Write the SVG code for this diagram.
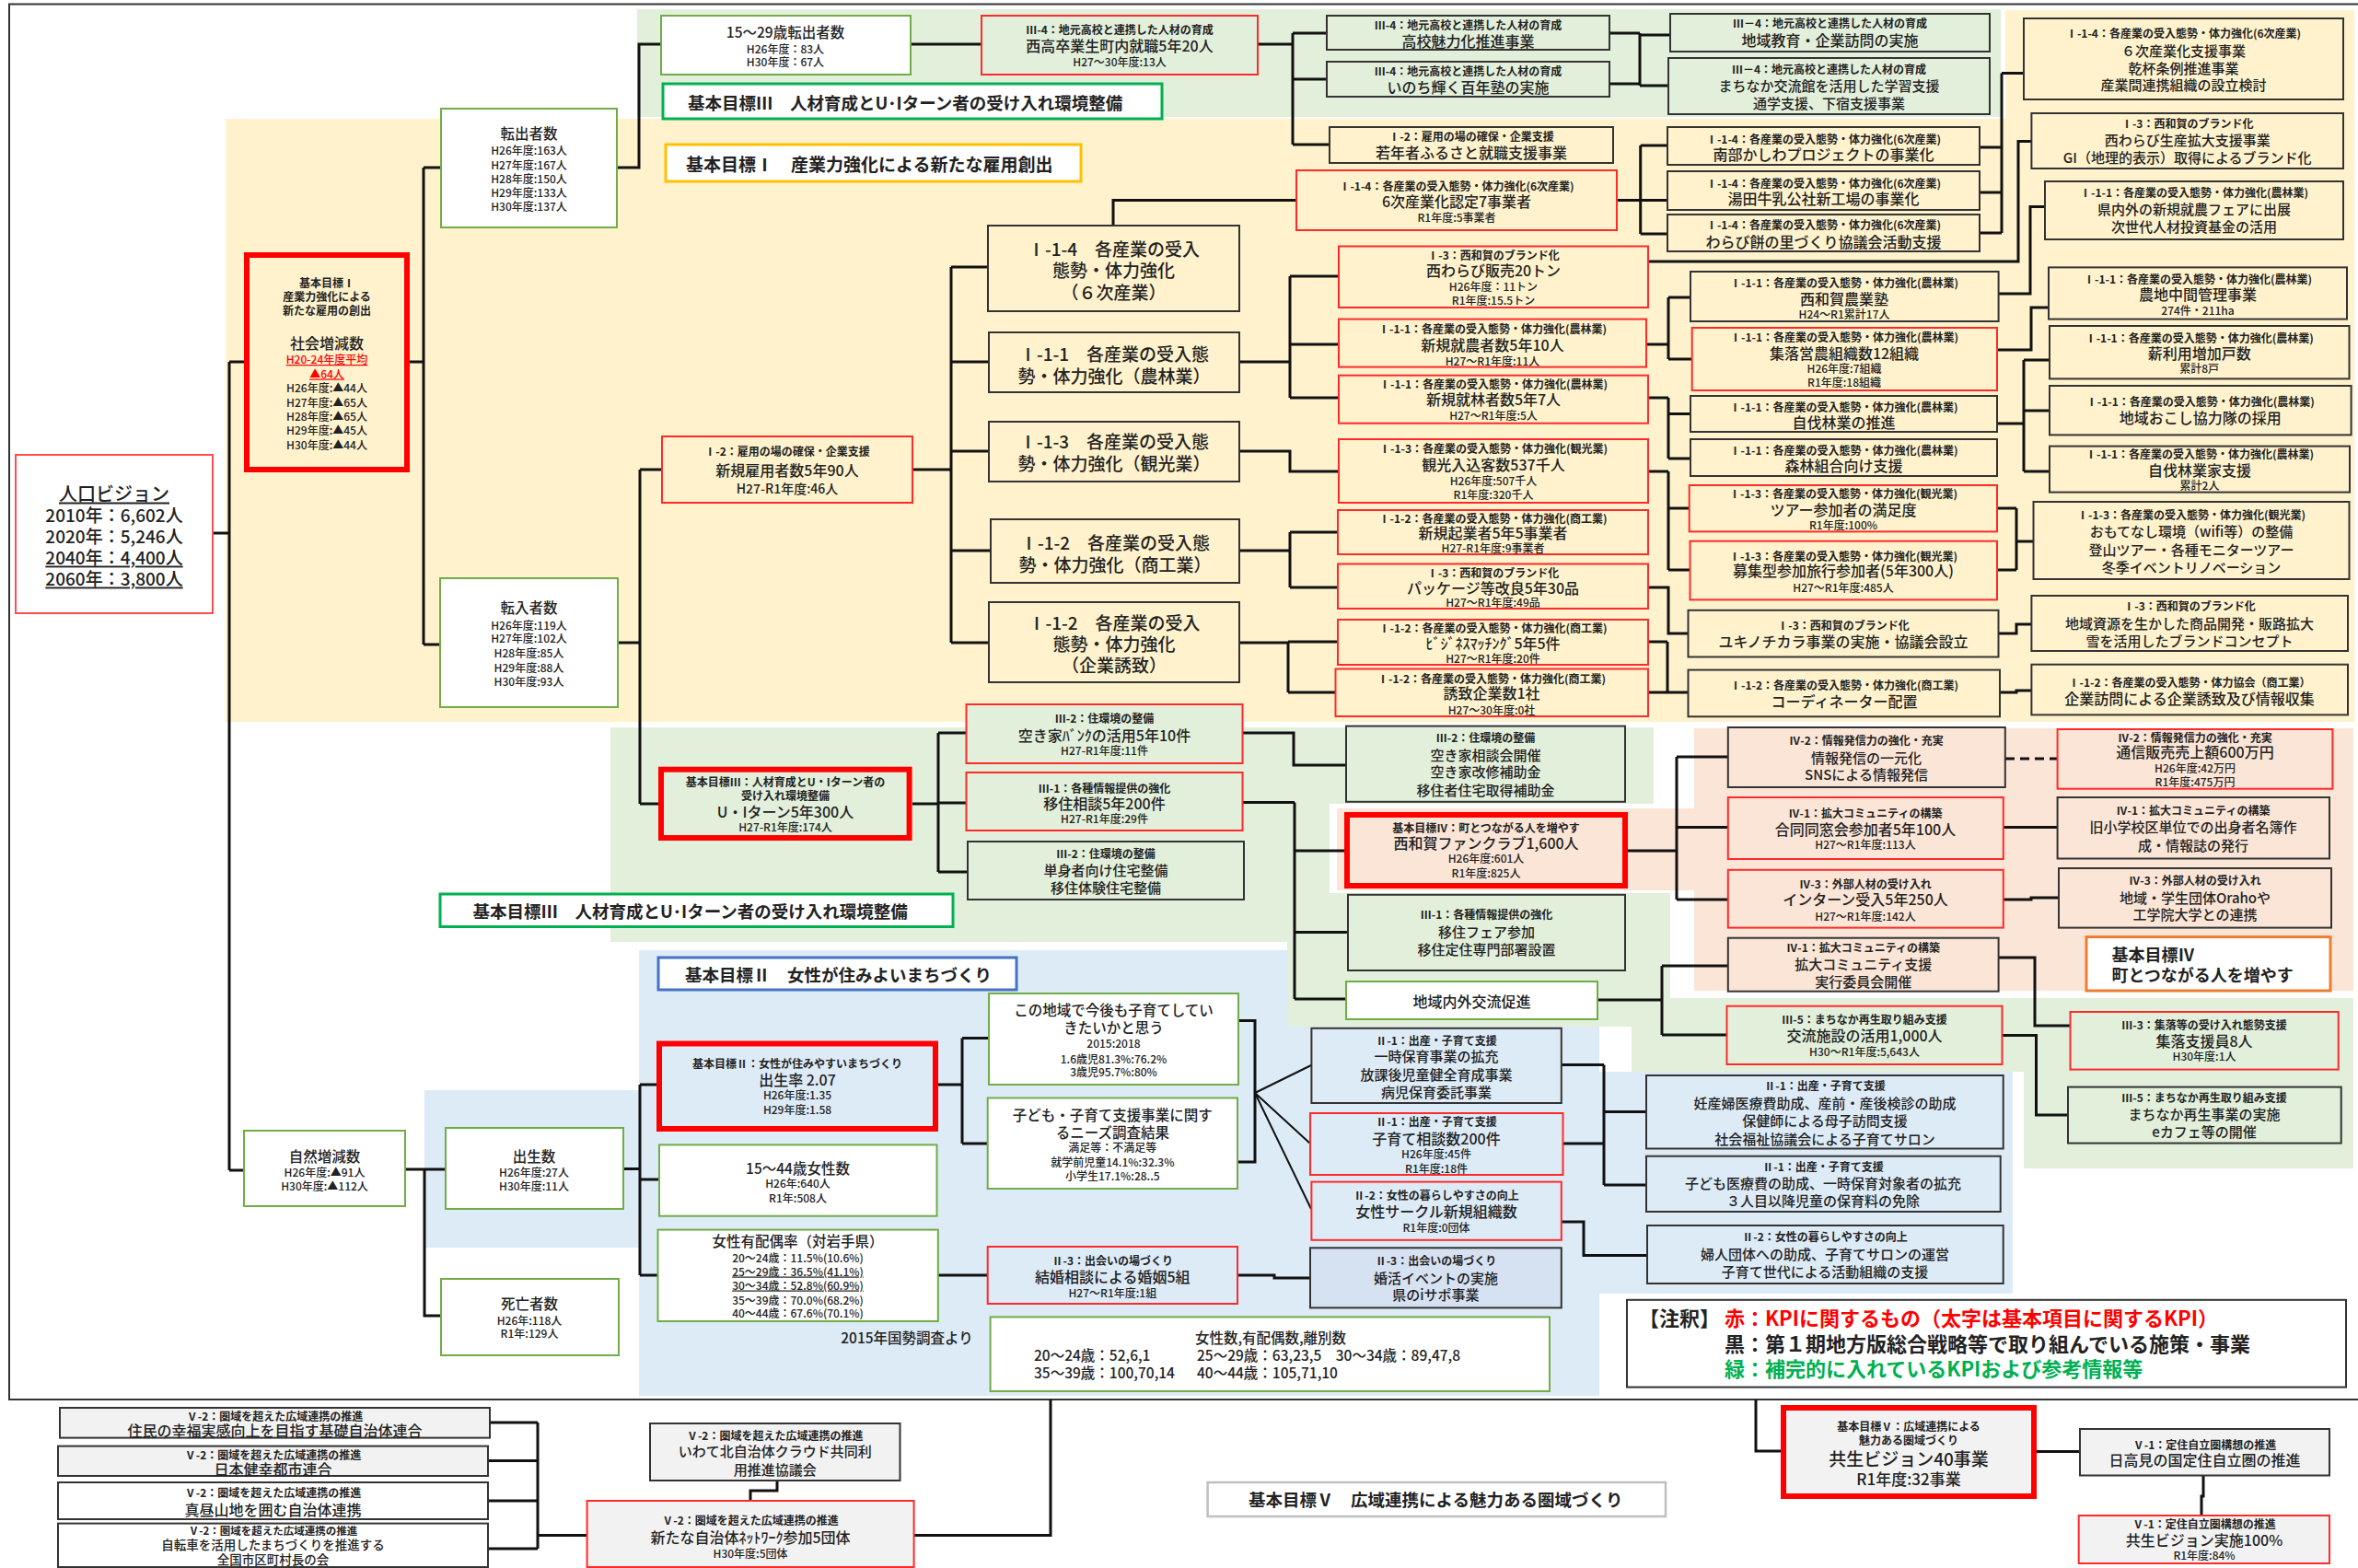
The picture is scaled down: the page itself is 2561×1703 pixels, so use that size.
<svg xmlns="http://www.w3.org/2000/svg" width="2561" height="1703" viewBox="0 0 2561 1703">
<style>
text{font-family:"Noto Sans CJK JP","Noto Sans",sans-serif;fill:#222;text-anchor:middle;dominant-baseline:central}
.h{font-size:12px;font-weight:700}
.m{font-size:16px;font-weight:500}
.m2{font-size:15px;font-weight:500}
.s{font-size:12px;font-weight:500}
.b{font-size:19px;font-weight:500}
.t{font-size:15.5px;font-weight:500}
.p{font-size:19px;font-weight:500}
.lb{font-size:18.5px;font-weight:700;text-anchor:start}
.lg{font-size:22px;font-weight:700;text-anchor:start}
.st{text-anchor:start}
.u{text-decoration:underline}
.red{fill:#FF0000}
.k{stroke:#333;stroke-width:2}
.r{stroke:#FF2A2A;stroke-width:2}
.g{stroke:#70AD47;stroke-width:2}
.R{stroke:#FF0000;stroke-width:6}
.fg{fill:#E2EFDA}.fy{fill:#FFF2CC}.fb{fill:#DDEBF7}.fs{fill:#FBE5D6}.fw{fill:#fff}.fx{fill:#F2F2F2}.fn{fill:none}
.c path{fill:none;stroke:#111;stroke-width:3}
</style>
<g id="backgrounds">
<rect x="245" y="129" width="2312" height="655" fill="#FFF2CC"/>
<rect x="2178" y="11" width="379" height="118" fill="#FFF2CC"/>
<rect x="692" y="10" width="1481" height="117" fill="#E2EFDA"/>
<rect x="663" y="790" width="1133" height="233" fill="#E2EFDA"/>
<rect x="1840" y="791" width="716" height="285" fill="#FBE5D6"/>
<rect x="694" y="1032" width="1043" height="484" fill="#DDEBF7"/>
<rect x="461" y="1184" width="233" height="171" fill="#DDEBF7"/>
<rect x="1737" y="1164" width="449" height="241" fill="#DDEBF7"/>
<rect x="1398" y="969" width="416" height="146" fill="#E2EFDA"/>
<rect x="1444" y="873" width="396" height="97" fill="#fff"/>
<rect x="1452" y="878" width="388" height="89" fill="#FBE5D6"/>
<rect x="1772" y="1084" width="784" height="80" fill="#E2EFDA"/>
<rect x="2198" y="1164" width="358" height="105" fill="#E2EFDA"/>
<rect x="10" y="4.5" width="2556" height="1515.5" fill="none" stroke="#333" stroke-width="2"/>
</g>
<g id="connectors" class="c">
<path d="M231,579H249M249,393V1271M249,393H268M249,1271H265"/>
<path d="M442,393H460M460,182V700M460,182H479M460,700H478"/>
<path d="M670,182H694V48H718M989,48H1066"/>
<path d="M1366,48H1404M1404,36V157M1404,36H1441M1404,86H1441M1404,157H1444"/>
<path d="M1748,36H1781M1748,91H1781M1781,36V93M1781,38H1814M1781,93H1812"/>
<path d="M671,698H695M695,510V873M695,510H719M695,873H718"/>
<path d="M991,510H1033M1033,290V698M1033,290H1073M1033,393H1074M1033,490H1074M1033,598H1076M1033,698H1074"/>
<path d="M1209,245V217.5H1408"/>
<path d="M1756,217.5H1811M1781.7,158V254M1781.7,158H1811M1781.7,254H1811"/>
<path d="M2150,160H2174M2150,209H2174M2150,253H2174M2174,79.5V253M2174,79.5H2198"/>
<path d="M1346,393H1401M1401,300V432M1401,300H1454M1401,374H1454M1401,432H1454"/>
<path d="M1346,490H1401V512H1454"/>
<path d="M1346,598H1401M1401,578V638M1401,578H1453M1401,638H1453"/>
<path d="M1346,698H1399M1399,697V752M1399,697H1453M1399,752H1450"/>
<path d="M1790,284H2192V153.5H2206"/>
<path d="M1788,374H1812M1812,323V390M1812,323H1836M1812,390H1838"/>
<path d="M1790,432H1812M1812,432V498M1812,449.5H1836M1812,498H1836"/>
<path d="M1790,512H1812M1812,512V619M1812,552H1835M1812,619H1836"/>
<path d="M1790,638H1812V688H1834"/>
<path d="M1790,697H1811M1811,697V752M1790,752H1834"/>
<path d="M2171,319H2205V224.6H2221"/>
<path d="M2169,380H2206V334H2225"/>
<path d="M2169,460H2198M2198,391V512M2198,391H2226M2198,446H2226M2198,512H2226"/>
<path d="M2169,552H2190M2169,619H2190M2190,552V619M2190,588H2209"/>
<path d="M2171,688H2190V678H2206"/>
<path d="M2172,752H2190V750H2206"/>
<path d="M991,873H1019M1019,796V947M1019,796H1050M1019,872H1050M1019,947H1051"/>
<path d="M1349,796H1405V831H1462"/>
<path d="M1349,871.5H1406M1406,871.5V1085M1406,924H1460M1406,1012.5H1464M1406,1085H1462"/>
<path d="M1768,924H1821M1821,822V977M1821,822H1877M1821,898.5H1877M1821,977H1877"/>
<path d="M1735,1086H1805M1805,1049V1124M1805,1049H1877M1805,1124H1876"/>
<path d="M2178,824H2235" stroke-dasharray="10 6"/>
<path d="M2176,898.5H2235"/>
<path d="M2176,977H2206V975H2236"/>
<path d="M2171,1040H2210V1114H2249"/>
<path d="M2174,1124.5H2211.5V1211H2246"/>
<path d="M440,1270H484M461,1270V1429H479"/>
<path d="M677,1269.4H695M695,1178V1385M695,1178H713M695,1281H716M695,1385H715"/>
<path d="M1019,1178H1045M1045,1127.4V1242M1045,1127.4H1074M1045,1242H1073"/>
<path d="M1019,1385H1073"/>
<path d="M1345,1108.6H1363V1262H1344"/>
<path d="M1363,1187L1424,1157M1363,1187L1423,1242M1363,1187L1424,1313" style="stroke-width:2"/>
<path d="M1344,1385H1384V1388H1423"/>
<path d="M1696,1156.4H1742M1697,1242H1742M1742,1156.4V1287M1742,1207.4H1788M1742,1287H1788"/>
<path d="M1696,1327H1720V1363.5H1789"/>
<path d="M532,1545H584M530,1586.5H584M530,1630H584M530,1682H584M584,1545V1682M584,1667.6H638"/>
<path d="M844,1608V1619H815V1630"/>
<path d="M993,1667.6H1141V1520"/>
<path d="M1907,1520V1576H1937"/>
<path d="M2212,1576.5H2259"/>
<path d="M2393,1602.5V1625H2391V1646"/>
</g>
<g id="n-jinko"><rect x="17" y="494" width="214" height="172" fill="#fff" stroke="#FF4D4D" stroke-width="2"/>
<text x="124" y="535" class="p u" style="font-size:20px">人口ビジョン</text>
<text x="124" y="558" class="p">2010年：6,602人</text>
<text x="124" y="581" class="p">2020年：5,246人</text>
<text x="124" y="604" class="p u">2040年：4,400人</text>
<text x="124" y="627" class="p u">2060年：3,800人</text></g>
<g id="n-shakai"><rect x="268" y="277" width="174" height="233" class="R fn"/>
<text x="355" y="306" class="h">基本目標Ⅰ</text>
<text x="355" y="321" class="h">産業力強化による</text>
<text x="355" y="336" class="h">新たな雇用の創出</text>
<text x="355" y="372" class="m">社会増減数</text>
<text x="355" y="389.5" class="s red u">H20-24年度平均</text>
<text x="355" y="405" class="s red u">▲64人</text>
<text x="355" y="420" class="s">H26年度:▲44人</text>
<text x="355" y="436" class="s">H27年度:▲65人</text>
<text x="355" y="451" class="s">H28年度:▲65人</text>
<text x="355" y="466" class="s">H29年度:▲45人</text>
<text x="355" y="482" class="s">H30年度:▲44人</text></g>
<g id="n-tenshutsu"><rect x="479" y="118" width="191" height="129" class="g fw"/>
<text x="574.5" y="144" class="t">転出者数</text>
<text x="574.5" y="162" class="s">H26年度:163人</text>
<text x="574.5" y="178" class="s">H27年度:167人</text>
<text x="574.5" y="193" class="s">H28年度:150人</text>
<text x="574.5" y="208" class="s">H29年度:133人</text>
<text x="574.5" y="223" class="s">H30年度:137人</text></g>
<g id="n-tennyu"><rect x="478" y="628" width="193" height="140" class="g fw"/>
<text x="574.5" y="659" class="t">転入者数</text>
<text x="574.5" y="678" class="s">H26年度:119人</text>
<text x="574.5" y="692" class="s">H27年度:102人</text>
<text x="574.5" y="708" class="s">H28年度:85人</text>
<text x="574.5" y="724" class="s">H29年度:88人</text>
<text x="574.5" y="739" class="s">H30年度:93人</text></g>
<g id="n-shizen"><rect x="265" y="1228" width="175" height="82" class="g fw"/>
<text x="352.5" y="1255" class="t">自然増減数</text>
<text x="352.5" y="1272" class="s">H26年度:▲91人</text>
<text x="352.5" y="1287" class="s">H30年度:▲112人</text></g>
<g id="n-shusshou"><rect x="484" y="1225" width="193" height="88" class="g fw"/>
<text x="580" y="1255" class="t">出生数</text>
<text x="580" y="1272" class="s">H26年度:27人</text>
<text x="580" y="1287" class="s">H30年度:11人</text></g>
<g id="n-shibou"><rect x="479" y="1389" width="193" height="83" class="g fw"/>
<text x="575" y="1415" class="t">死亡者数</text>
<text x="575" y="1433" class="s">H26年:118人</text>
<text x="575" y="1447" class="s">R1年:129人</text></g>
<g id="n-1529"><rect x="718" y="17" width="271" height="64" class="g fw"/>
<text x="853" y="34" class="t">15～29歳転出者数</text>
<text x="853" y="52" class="s">H26年度：83人</text>
<text x="853" y="66.6" class="s">H30年度：67人</text></g>
<g id="n-nishikou"><rect x="1066" y="17" width="300" height="64" class="r fg"/>
<text x="1216" y="31" class="h">Ⅲ-4：地元高校と連携した人材の育成</text>
<text x="1216" y="49" class="m">西高卒業生町内就職5年20人</text>
<text x="1216" y="66.6" class="s">H27～30年度:13人</text></g>
<g id="l-goal3a"><rect x="720" y="91" width="542" height="38" fill="#fff" stroke="#00B050" stroke-width="3"/>
<text x="747" y="111" class="lb">基本目標Ⅲ　人材育成とU･Iターン者の受け入れ環境整備</text></g>
<g id="l-goal1"><rect x="723" y="157" width="451" height="40" fill="#fff" stroke="#FFC000" stroke-width="3"/>
<text x="745" y="177.6" class="lb" style="font-size:19px">基本目標Ⅰ　産業力強化による新たな雇用創出</text></g>
<g id="n-i2"><rect x="719" y="474" width="272" height="72" class="r fy"/>
<text x="855" y="489.5" class="h">Ⅰ-2：雇用の場の確保・企業支援</text>
<text x="855" y="510" class="m">新規雇用者数5年90人</text>
<text x="855" y="530" class="s" style="font-size:14px">H27-R1年度:46人</text></g>
<g id="n-b114"><rect x="1073" y="245" width="273" height="93" class="k fy"/>
<text x="1209.5" y="269" class="b">Ⅰ-1-4　各産業の受入</text>
<text x="1209.5" y="292.5" class="b">態勢・体力強化</text>
<text x="1209.5" y="316" class="b">（６次産業）</text></g>
<g id="n-b111"><rect x="1074" y="361" width="272" height="65" class="k fy"/>
<text x="1210" y="383" class="b">Ⅰ-1-1　各産業の受入態</text>
<text x="1210" y="407" class="b">勢・体力強化（農林業）</text></g>
<g id="n-b113"><rect x="1074" y="458" width="272" height="65" class="k fy"/>
<text x="1210" y="478" class="b">Ⅰ-1-3　各産業の受入態</text>
<text x="1210" y="502" class="b">勢・体力強化（観光業）</text></g>
<g id="n-b112a"><rect x="1076" y="564" width="270" height="69" class="k fy"/>
<text x="1211" y="588" class="b">Ⅰ-1-2　各産業の受入態</text>
<text x="1211" y="612" class="b">勢・体力強化（商工業）</text></g>
<g id="n-b112b"><rect x="1074" y="654" width="272" height="87" class="k fy"/>
<text x="1210" y="675" class="b">Ⅰ-1-2　各産業の受入</text>
<text x="1210" y="698" class="b">態勢・体力強化</text>
<text x="1210" y="721" class="b">（企業誘致）</text></g>
<g id="n-koukou"><rect x="1441" y="17" width="307" height="37" class="k fg"/>
<text x="1594.5" y="26.5" class="h">Ⅲ-4：地元高校と連携した人材の育成</text>
<text x="1594.5" y="43.7" class="m">高校魅力化推進事業</text></g>
<g id="n-inochi"><rect x="1441" y="67" width="307" height="38" class="k fg"/>
<text x="1594.5" y="76.5" class="h">Ⅲ-4：地元高校と連携した人材の育成</text>
<text x="1594.5" y="94" class="m">いのち輝く百年塾の実施</text></g>
<g id="n-chiikikyoiku"><rect x="1814" y="15" width="347" height="41" class="k fg"/>
<text x="1987.5" y="24.5" class="h">Ⅲ－4：地元高校と連携した人材の育成</text>
<text x="1987.5" y="42.5" class="m">地域教育・企業訪問の実施</text></g>
<g id="n-machinaka-kouryu"><rect x="1812" y="63" width="349" height="61" class="k fg"/>
<text x="1986.5" y="74.5" class="h">Ⅲ－4：地元高校と連携した人材の育成</text>
<text x="1986.5" y="92.5" class="m2">まちなか交流館を活用した学習支援</text>
<text x="1986.5" y="111" class="m2">通学支援、下宿支援事業</text></g>
<g id="n-jakunen"><rect x="1444" y="138" width="308" height="39" class="k fy"/>
<text x="1598" y="147.5" class="h">Ⅰ-2：雇用の場の確保・企業支援</text>
<text x="1598" y="165" class="m">若年者ふるさと就職支援事業</text></g>
<g id="n-6ji-nintei"><rect x="1408" y="185" width="348" height="65" class="r fy"/>
<text x="1582" y="201" class="h">Ⅰ-1-4：各産業の受入態勢・体力強化(6次産業)</text>
<text x="1582" y="218" class="m">6次産業化認定7事業者</text>
<text x="1582" y="235" class="s">R1年度:5事業者</text></g>
<g id="n-nanbu"><rect x="1811" y="138" width="339" height="41" class="k fy"/>
<text x="1980.5" y="150" class="h">Ⅰ-1-4：各産業の受入態勢・体力強化(6次産業)</text>
<text x="1980.5" y="166.5" class="m">南部かしわプロジェクトの事業化</text></g>
<g id="n-yuda"><rect x="1811" y="186" width="339" height="42" class="k fy"/>
<text x="1980.5" y="198" class="h">Ⅰ-1-4：各産業の受入態勢・体力強化(6次産業)</text>
<text x="1980.5" y="215" class="m">湯田牛乳公社新工場の事業化</text></g>
<g id="n-warabimochi"><rect x="1811" y="233" width="339" height="40" class="k fy"/>
<text x="1980.5" y="243.5" class="h">Ⅰ-1-4：各産業の受入態勢・体力強化(6次産業)</text>
<text x="1980.5" y="261.5" class="m">わらび餅の里づくり協議会活動支援</text></g>
<g id="n-6ji-shien"><rect x="2198" y="20" width="347" height="88" class="k fy"/>
<text x="2371.5" y="35.5" class="h">Ⅰ-1-4：各産業の受入態勢・体力強化(6次産業)</text>
<text x="2371.5" y="54.4" class="m2">６次産業化支援事業</text>
<text x="2371.5" y="73" class="m2">乾杯条例推進事業</text>
<text x="2371.5" y="91.6" class="m2">産業間連携組織の設立検討</text></g>
<g id="n-warabi20"><rect x="1454" y="267.5" width="336" height="66.5" class="r fy"/>
<text x="1622" y="276" class="h">Ⅰ-3：西和賀のブランド化</text>
<text x="1622" y="293.4" class="m">西わらび販売20トン</text>
<text x="1622" y="310" class="s">H26年度：11トン</text>
<text x="1622" y="325.6" class="s">R1年度:15.5トン</text></g>
<g id="n-shunou"><rect x="1454" y="346.6" width="334" height="52" class="r fy"/>
<text x="1621" y="356" class="h">Ⅰ-1-1：各産業の受入態勢・体力強化(農林業)</text>
<text x="1621" y="374.4" class="m">新規就農者数5年10人</text>
<text x="1621" y="391" class="s">H27～R1年度:11人</text></g>
<g id="n-shurin"><rect x="1454" y="407.7" width="336" height="52" class="r fy"/>
<text x="1622" y="416" class="h">Ⅰ-1-1：各産業の受入態勢・体力強化(農林業)</text>
<text x="1622" y="433" class="m">新規就林者数5年7人</text>
<text x="1622" y="450" class="s">H27～R1年度:5人</text></g>
<g id="n-kankou"><rect x="1454" y="477" width="336" height="69" class="r fy"/>
<text x="1622" y="486" class="h">Ⅰ-1-3：各産業の受入態勢・体力強化(観光業)</text>
<text x="1622" y="504" class="m">観光入込客数537千人</text>
<text x="1622" y="521" class="s">H26年度:507千人</text>
<text x="1622" y="536.5" class="s">R1年度:320千人</text></g>
<g id="n-kigyou"><rect x="1453" y="554" width="337" height="48" class="r fy"/>
<text x="1621.5" y="562" class="h">Ⅰ-1-2：各産業の受入態勢・体力強化(商工業)</text>
<text x="1621.5" y="578" class="m">新規起業者5年5事業者</text>
<text x="1621.5" y="594.5" class="s">H27-R1年度:9事業者</text></g>
<g id="n-package"><rect x="1453" y="612.5" width="337" height="48.5" class="r fy"/>
<text x="1621.5" y="621" class="h">Ⅰ-3：西和賀のブランド化</text>
<text x="1621.5" y="637.5" class="m">パッケージ等改良5年30品</text>
<text x="1621.5" y="653.6" class="s">H27～R1年度:49品</text></g>
<g id="n-business"><rect x="1453" y="673" width="337" height="49" class="r fy"/>
<text x="1621.5" y="681" class="h">Ⅰ-1-2：各産業の受入態勢・体力強化(商工業)</text>
<text x="1621.5" y="697.6" class="m">ﾋﾞｼﾞﾈｽﾏｯﾁﾝｸﾞ5年5件</text>
<text x="1621.5" y="714.3" class="s">H27～R1年度:20件</text></g>
<g id="n-yuchi"><rect x="1450.5" y="726.5" width="339.5" height="51.5" class="r fy"/>
<text x="1620" y="736" class="h">Ⅰ-1-2：各産業の受入態勢・体力強化(商工業)</text>
<text x="1620" y="752.4" class="m">誘致企業数1社</text>
<text x="1620" y="770" class="s">H27～30年度:0社</text></g>
<g id="n-nougyoujuku"><rect x="1836" y="295" width="334.6" height="54" class="k fy"/>
<text x="2003" y="306" class="h">Ⅰ-1-1：各産業の受入態勢・体力強化(農林業)</text>
<text x="2003" y="323.7" class="m">西和賀農業塾</text>
<text x="2003" y="340.4" class="s">H24～R1累計17人</text></g>
<g id="n-shuraku-einou"><rect x="1837.7" y="356" width="331.3" height="68" class="r fy"/>
<text x="2003" y="365.5" class="h">Ⅰ-1-1：各産業の受入態勢・体力強化(農林業)</text>
<text x="2003" y="383" class="m">集落営農組織数12組織</text>
<text x="2003" y="399.6" class="s">H26年度:7組織</text>
<text x="2003" y="414.4" class="s">R1年度:18組織</text></g>
<g id="n-jibatsu"><rect x="1836" y="430" width="333" height="39" class="k fy"/>
<text x="2002.5" y="441.4" class="h">Ⅰ-1-1：各産業の受入態勢・体力強化(農林業)</text>
<text x="2002.5" y="458" class="m">自伐林業の推進</text></g>
<g id="n-shinrin"><rect x="1836" y="477" width="333" height="40" class="k fy"/>
<text x="2002.5" y="488.4" class="h">Ⅰ-1-1：各産業の受入態勢・体力強化(農林業)</text>
<text x="2002.5" y="505" class="m">森林組合向け支援</text></g>
<g id="n-tour"><rect x="1834.7" y="527" width="334.3" height="50.4" class="r fy"/>
<text x="2002" y="535.5" class="h">Ⅰ-1-3：各産業の受入態勢・体力強化(観光業)</text>
<text x="2002" y="553" class="m">ツアー参加者の満足度</text>
<text x="2002" y="569" class="s">R1年度:100%</text></g>
<g id="n-boshu"><rect x="1835.5" y="587.7" width="333.5" height="63.7" class="r fy"/>
<text x="2002" y="603.3" class="h">Ⅰ-1-3：各産業の受入態勢・体力強化(観光業)</text>
<text x="2002" y="619" class="m">募集型参加旅行参加者(5年300人)</text>
<text x="2002" y="637.7" class="s">H27～R1年度:485人</text></g>
<g id="n-yukino"><rect x="1833.5" y="662.8" width="337" height="50.7" class="k fy"/>
<text x="2002" y="678.4" class="h">Ⅰ-3：西和賀のブランド化</text>
<text x="2002" y="696" class="m">ユキノチカラ事業の実施・協議会設立</text></g>
<g id="n-coord"><rect x="1833.5" y="727.6" width="338.5" height="50.7" class="k fy"/>
<text x="2003" y="743" class="h">Ⅰ-1-2：各産業の受入態勢・体力強化(商工業)</text>
<text x="2003" y="761" class="m">コーディネーター配置</text></g>
<g id="n-warabi-kakudai"><rect x="2206.4" y="123" width="338.6" height="60" class="k fy"/>
<text x="2375.7" y="133.5" class="h">Ⅰ-3：西和賀のブランド化</text>
<text x="2375.7" y="151.7" class="m2">西わらび生産拡大支援事業</text>
<text x="2375.7" y="170" class="m2">GI（地理的表示）取得によるブランド化</text></g>
<g id="n-fair"><rect x="2221" y="197" width="324" height="63" class="k fy"/>
<text x="2383" y="208.5" class="h">Ⅰ-1-1：各産業の受入態勢・体力強化(農林業)</text>
<text x="2383" y="226.5" class="m2">県内外の新規就農フェアに出展</text>
<text x="2383" y="245" class="m2">次世代人材投資基金の活用</text></g>
<g id="n-nouchi"><rect x="2225" y="290.4" width="324" height="56.2" class="k fy"/>
<text x="2387" y="302" class="h">Ⅰ-1-1：各産業の受入態勢・体力強化(農林業)</text>
<text x="2387" y="319" class="m">農地中間管理事業</text>
<text x="2387" y="336.7" class="s">274件・211ha</text></g>
<g id="n-maki"><rect x="2226" y="354" width="325.5" height="57.4" class="k fy"/>
<text x="2388.7" y="366" class="h">Ⅰ-1-1：各産業の受入態勢・体力強化(農林業)</text>
<text x="2388.7" y="383" class="m">薪利用増加戸数</text>
<text x="2388.7" y="399.6" class="s">累計8戸</text></g>
<g id="n-okoshi"><rect x="2226" y="419" width="327.6" height="53.4" class="k fy"/>
<text x="2389.8" y="435.8" class="h">Ⅰ-1-1：各産業の受入態勢・体力強化(農林業)</text>
<text x="2389.8" y="453" class="m">地域おこし協力隊の採用</text></g>
<g id="n-jibatsuka"><rect x="2226" y="484.6" width="326" height="50" class="k fy"/>
<text x="2389" y="492.5" class="h">Ⅰ-1-1：各産業の受入態勢・体力強化(農林業)</text>
<text x="2389" y="509.8" class="m">自伐林業家支援</text>
<text x="2389" y="526.4" class="s">累計2人</text></g>
<g id="n-omotenashi"><rect x="2208.5" y="545" width="343" height="84" class="k fy"/>
<text x="2380" y="558" class="h">Ⅰ-1-3：各産業の受入態勢・体力強化(観光業)</text>
<text x="2380" y="576.6" class="m2">おもてなし環境（wifi等）の整備</text>
<text x="2380" y="596" class="m2">登山ツアー・各種モニターツアー</text>
<text x="2380" y="615.5" class="m2">冬季イベントリノベーション</text></g>
<g id="n-chiikishigen"><rect x="2206.4" y="647" width="343.6" height="60" class="k fy"/>
<text x="2378" y="657.5" class="h">Ⅰ-3：西和賀のブランド化</text>
<text x="2378" y="676.5" class="m2">地域資源を生かした商品開発・販路拡大</text>
<text x="2378" y="695" class="m2">雪を活用したブランドコンセプト</text></g>
<g id="n-kigyouhoumon"><rect x="2206.4" y="721.7" width="343.6" height="54.7" class="k fy"/>
<text x="2378" y="740.5" class="h">Ⅰ-1-2：各産業の受入態勢・体力協会（商工業）</text>
<text x="2378" y="758" class="m">企業訪問による企業誘致及び情報収集</text></g>
<g id="n-goal3"><rect x="718" y="835.7" width="269.6" height="74.3" class="R fg"/>
<text x="853" y="848.6" class="h">基本目標Ⅲ：人材育成とU・Iターン者の</text>
<text x="853" y="863" class="h">受け入れ環境整備</text>
<text x="853" y="881" class="m">U・Iターン5年300人</text>
<text x="853" y="897.4" class="s">H27-R1年度:174人</text></g>
<g id="n-akiya-bank"><rect x="1049.5" y="765" width="300" height="64" class="r fg"/>
<text x="1199.5" y="779.4" class="h">Ⅲ-2：住環境の整備</text>
<text x="1199.5" y="797.5" class="m">空き家ﾊﾞﾝｸの活用5年10件</text>
<text x="1199.5" y="814" class="s">H27-R1年度:11件</text></g>
<g id="n-ijuu-soudan"><rect x="1049.5" y="839" width="300" height="63" class="r fg"/>
<text x="1199.5" y="855" class="h">Ⅲ-1：各種情報提供の強化</text>
<text x="1199.5" y="872" class="m">移住相談5年200件</text>
<text x="1199.5" y="888.5" class="s">H27-R1年度:29件</text></g>
<g id="n-tanshin"><rect x="1051" y="914" width="300" height="63" class="k fg"/>
<text x="1201" y="926.5" class="h">Ⅲ-2：住環境の整備</text>
<text x="1201" y="944.7" class="m2">単身者向け住宅整備</text>
<text x="1201" y="963" class="m2">移住体験住宅整備</text></g>
<g id="l-goal3b"><rect x="478" y="971" width="557" height="35.5" fill="#fff" stroke="#00B050" stroke-width="3"/>
<text x="513.5" y="989" class="lb">基本目標Ⅲ　人材育成とU･Iターン者の受け入れ環境整備</text></g>
<g id="n-akiya-soudan"><rect x="1462" y="788.6" width="303" height="82.2" class="k fg"/>
<text x="1613.5" y="800.5" class="h">Ⅲ-2：住環境の整備</text>
<text x="1613.5" y="819" class="m2">空き家相談会開催</text>
<text x="1613.5" y="837.5" class="m2">空き家改修補助金</text>
<text x="1613.5" y="857.8" class="m2">移住者住宅取得補助金</text></g>
<g id="n-goal4"><rect x="1463" y="885" width="302" height="77" class="R fs"/>
<text x="1614" y="898.5" class="h">基本目標Ⅳ：町とつながる人を増やす</text>
<text x="1614" y="915" class="m">西和賀ファンクラブ1,600人</text>
<text x="1614" y="931.8" class="s">H26年度:601人</text>
<text x="1614" y="947.7" class="s">R1年度:825人</text></g>
<g id="n-ijuu-fair"><rect x="1464" y="971.8" width="301" height="82.2" class="k fg"/>
<text x="1614.5" y="992.8" class="h">Ⅲ-1：各種情報提供の強化</text>
<text x="1614.5" y="1011" class="m2">移住フェア参加</text>
<text x="1614.5" y="1030" class="m2">移住定住専門部署設置</text></g>
<g id="n-kouryu-sokushin"><rect x="1462" y="1066" width="273" height="41" class="g fw"/>
<text x="1598.5" y="1087" class="m">地域内外交流促進</text></g>
<g id="n-jouhou"><rect x="1876.8" y="790" width="301" height="65" class="k fs"/>
<text x="2027" y="803.5" class="h">Ⅳ-2：情報発信力の強化・充実</text>
<text x="2027" y="822" class="m2">情報発信の一元化</text>
<text x="2027" y="840.5" class="m2">SNSによる情報発信</text></g>
<g id="n-tsuhan"><rect x="2234.6" y="792" width="298.8" height="64.7" class="r fs"/>
<text x="2384" y="800" class="h">Ⅳ-2：情報発信力の強化・充実</text>
<text x="2384" y="816.4" class="m">通信販売売上額600万円</text>
<text x="2384" y="833" class="s">H26年度:42万円</text>
<text x="2384" y="848.6" class="s">R1年度:475万円</text></g>
<g id="n-dousoukai"><rect x="1876.8" y="866" width="299" height="67" class="r fs"/>
<text x="2026" y="882" class="h">Ⅳ-1：拡大コミュニティの構築</text>
<text x="2026" y="899.6" class="m">合同同窓会参加者5年100人</text>
<text x="2026" y="916" class="s">H27～R1年度:113人</text></g>
<g id="n-kyuushou"><rect x="2234.6" y="866" width="295.4" height="66.5" class="k fs"/>
<text x="2382" y="879.5" class="h">Ⅳ-1：拡大コミュニティの構築</text>
<text x="2382" y="897.8" class="m2">旧小学校区単位での出身者名簿作</text>
<text x="2382" y="917" class="m2">成・情報誌の発行</text></g>
<g id="n-intern"><rect x="1876.8" y="944.8" width="299" height="62.8" class="r fs"/>
<text x="2026" y="959.6" class="h">Ⅳ-3：外部人材の受け入れ</text>
<text x="2026" y="976" class="m">インターン受入5年250人</text>
<text x="2026" y="994" class="s">H27～R1年度:142人</text></g>
<g id="n-oraho"><rect x="2236" y="943" width="296" height="64.6" class="k fs"/>
<text x="2384" y="955.5" class="h">Ⅳ-3：外部人材の受け入れ</text>
<text x="2384" y="974" class="m2">地域・学生団体Orahoや</text>
<text x="2384" y="992.8" class="m2">工学院大学との連携</text></g>
<g id="n-kakudai"><rect x="1876.8" y="1018.7" width="293.8" height="58" class="k fs"/>
<text x="2023.7" y="1028.5" class="h">Ⅳ-1：拡大コミュニティの構築</text>
<text x="2023.7" y="1046.5" class="m2">拡大コミュニティ支援</text>
<text x="2023.7" y="1065.7" class="m2">実行委員会開催</text></g>
<g id="l-goal4"><rect x="2266" y="1017.6" width="265" height="58.4" fill="#fff" stroke="#ED7D31" stroke-width="3"/>
<text x="2293.5" y="1036" class="lb" style="font-size:18px">基本目標Ⅳ</text>
<text x="2293.5" y="1058" class="lb" style="font-size:18px">町とつながる人を増やす</text></g>
<g id="n-kouryu-shisetsu"><rect x="1875.5" y="1092.7" width="299" height="63.3" class="r fg"/>
<text x="2025" y="1106.4" class="h">Ⅲ-5：まちなか再生取り組み支援</text>
<text x="2025" y="1124" class="m">交流施設の活用1,000人</text>
<text x="2025" y="1141" class="s">H30～R1年度:5,643人</text></g>
<g id="n-shuraku-shienin"><rect x="2248.5" y="1099" width="291.2" height="62.6" class="r fg"/>
<text x="2394" y="1112" class="h">Ⅲ-3：集落等の受け入れ態勢支援</text>
<text x="2394" y="1129.7" class="m">集落支援員8人</text>
<text x="2394" y="1146.8" class="s">H30年度:1人</text></g>
<g id="n-machinaka-saisei"><rect x="2246" y="1180.6" width="296.7" height="61" class="k fg"/>
<text x="2394" y="1191" class="h">Ⅲ-5：まちなか再生取り組み支援</text>
<text x="2394" y="1209" class="m2">まちなか再生事業の実施</text>
<text x="2394" y="1228.5" class="m2">eカフェ等の開催</text></g>
<g id="l-goal2"><rect x="715" y="1040" width="389" height="35" fill="#fff" stroke="#4472C4" stroke-width="3"/>
<text x="744" y="1057.6" class="lb">基本目標Ⅱ　女性が住みよいまちづくり</text></g>
<g id="n-goal2"><rect x="716" y="1133.5" width="300" height="92.5" class="R fb"/>
<text x="866" y="1154" class="h">基本目標Ⅱ：女性が住みやすいまちづくり</text>
<text x="866" y="1172" class="m">出生率 2.07</text>
<text x="866" y="1188.8" class="s">H26年度:1.35</text>
<text x="866" y="1204.8" class="s">H29年度:1.58</text></g>
<g id="n-josei1544"><rect x="716" y="1243.4" width="301.5" height="77.3" class="g fw"/>
<text x="866.5" y="1267.6" class="t">15～44歳女性数</text>
<text x="866.5" y="1284" class="s">H26年:640人</text>
<text x="866.5" y="1300" class="s">R1年:508人</text></g>
<g id="n-haiguu"><rect x="714.5" y="1335.6" width="304.3" height="99.4" class="g fw"/>
<text x="866.5" y="1347" class="t">女性有配偶率（対岩手県）</text>
<text x="866.5" y="1365" class="s">20～24歳：11.5%(10.6%)</text>
<text x="866.5" y="1380" class="s u">25～29歳：36.5%(41.1%)</text>
<text x="866.5" y="1395" class="s u">30～34歳：52.8%(60.9%)</text>
<text x="866.5" y="1411" class="s">35～39歳：70.0%(68.2%)</text>
<text x="866.5" y="1425.6" class="s">40～44歳：67.6%(70.1%)</text></g>
<text x="985" y="1452" class="t">2015年国勢調査より</text>
<g id="n-kosodate-omou"><rect x="1074" y="1079" width="271" height="99" class="g fw"/>
<text x="1209.5" y="1095.7" class="t">この地域で今後も子育てしてい</text>
<text x="1209.5" y="1115" class="t">きたいかと思う</text>
<text x="1209.5" y="1132.7" class="s">2015:2018</text>
<text x="1209.5" y="1149" class="s">1.6歳児81.3%:76.2%</text>
<text x="1209.5" y="1163.5" class="s">3歳児95.7%:80%</text></g>
<g id="n-needs"><rect x="1072.7" y="1192.5" width="271.3" height="98.5" class="g fw"/>
<text x="1208.3" y="1210" class="t">子ども・子育て支援事業に関す</text>
<text x="1208.3" y="1228.5" class="t">るニーズ調査結果</text>
<text x="1208.3" y="1245" class="s">満足等：不満足等</text>
<text x="1208.3" y="1261" class="s">就学前児童14.1%:32.3%</text>
<text x="1208.3" y="1276" class="s">小学生17.1%:28..5</text></g>
<g id="n-kekkon"><rect x="1072.7" y="1354" width="271.3" height="62" class="r fb"/>
<text x="1208.3" y="1368" class="h">Ⅱ-3：出会いの場づくり</text>
<text x="1208.3" y="1385.8" class="m">結婚相談による婚姻5組</text>
<text x="1208.3" y="1403" class="s">H27～R1年度:1組</text></g>
<g id="n-joseisu"><rect x="1075.6" y="1430.4" width="607.4" height="80.6" class="g fw"/>
<text x="1380" y="1452" class="t">女性数,有配偶数,離別数</text>
<text x="1123" y="1470.6" class="t st">20～24歳：52,6,1</text>
<text x="1300" y="1470.6" class="t st">25～29歳：63,23,5　30～34歳：89,47,8</text>
<text x="1123" y="1490" class="t st">35～39歳：100,70,14</text>
<text x="1300" y="1490" class="t st">40～44歳：105,71,10</text></g>
<g id="n-ichiji"><rect x="1424.4" y="1116.8" width="271.4" height="81.2" class="k fb"/>
<text x="1560" y="1129" class="h">Ⅱ-1：出産・子育て支援</text>
<text x="1560" y="1146.8" class="m2">一時保育事業の拡充</text>
<text x="1560" y="1166.5" class="m2">放課後児童健全育成事業</text>
<text x="1560" y="1185.8" class="m2">病児保育委託事業</text></g>
<g id="n-kosodate-soudan"><rect x="1423" y="1209" width="274.5" height="67" class="r fb"/>
<text x="1560" y="1217.5" class="h">Ⅱ-1：出産・子育て支援</text>
<text x="1560" y="1236" class="m">子育て相談数200件</text>
<text x="1560" y="1252.7" class="s">H26年度:45件</text>
<text x="1560" y="1268.7" class="s">R1年度:18件</text></g>
<g id="n-circle"><rect x="1424.4" y="1283.6" width="271.4" height="63.2" class="r fb"/>
<text x="1560" y="1297" class="h">Ⅱ-2：女性の暮らしやすさの向上</text>
<text x="1560" y="1315" class="m">女性サークル新規組織数</text>
<text x="1560" y="1332" class="s">R1年度:0団体</text></g>
<g id="n-konkatsu"><rect x="1423" y="1355.3" width="272.8" height="65.1" class="k" fill="#D6E1F2"/>
<text x="1559.4" y="1368.5" class="h">Ⅱ-3：出会いの場づくり</text>
<text x="1559.4" y="1387" class="m2">婚活イベントの実施</text>
<text x="1559.4" y="1405.5" class="m2">県のiサポ事業</text></g>
<g id="n-ninsanpu"><rect x="1788" y="1168" width="387.7" height="79.5" class="k fb"/>
<text x="1982" y="1178.5" class="h">Ⅱ-1：出産・子育て支援</text>
<text x="1982" y="1197" class="m2">妊産婦医療費助成、産前・産後検診の助成</text>
<text x="1982" y="1216" class="m2">保健師による母子訪問支援</text>
<text x="1982" y="1236.4" class="m2">社会福祉協議会による子育てサロン</text></g>
<g id="n-iryouhi"><rect x="1788" y="1255.7" width="384.7" height="60.3" class="k fb"/>
<text x="1980" y="1266.3" class="h">Ⅱ-1：出産・子育て支援</text>
<text x="1980" y="1284.7" class="m2">子ども医療費の助成、一時保育対象者の拡充</text>
<text x="1980" y="1303.3" class="m2">３人目以降児童の保育料の免除</text></g>
<g id="n-fujin"><rect x="1789" y="1331" width="386.7" height="63" class="k fb"/>
<text x="1982" y="1342.5" class="h">Ⅱ-2：女性の暮らしやすさの向上</text>
<text x="1982" y="1361.6" class="m2">婦人団体への助成、子育てサロンの運営</text>
<text x="1982" y="1380.2" class="m2">子育て世代による活動組織の支援</text></g>
<g id="legend"><rect x="1767" y="1411.8" width="781" height="94.8" class="k fw"/>
<text x="1780" y="1430.4" class="lg">【注釈】</text>
<text x="1873" y="1430.4" class="lg red">赤：KPIに関するもの（太字は基本項目に関するKPI）</text>
<text x="1873" y="1457.5" class="lg">黒：第１期地方版総合戦略等で取り組んでいる施策・事業</text>
<text x="1873" y="1484.5" class="lg" style="fill:#00B050">緑：補完的に入れているKPIおよび参考情報等</text></g>
<g id="l-goal5"><rect x="1311.6" y="1610" width="497.4" height="37" fill="#fff" stroke="#BFBFBF" stroke-width="2.5"/>
<text x="1356" y="1628" class="lb">基本目標Ⅴ　広域連携による魅力ある圏域づくり</text></g>
<g id="n-goal5"><rect x="1937" y="1529" width="272" height="96" class="R fx"/>
<text x="2073" y="1548.6" class="h">基本目標Ⅴ：広域連携による</text>
<text x="2073" y="1563" class="h">魅力ある圏域づくり</text>
<text x="2073" y="1583" class="m" style="font-size:19px">共生ビジョン40事業</text>
<text x="2073" y="1605" class="m" style="font-size:17px">R1年度:32事業</text></g>
<g id="n-hidakami"><rect x="2259" y="1552" width="271" height="50.5" class="k fx"/>
<text x="2394.5" y="1568.7" class="h">Ⅴ-1：定住自立圏構想の推進</text>
<text x="2394.5" y="1585" class="m">日高見の国定住自立圏の推進</text></g>
<g id="n-kyousei"><rect x="2257.7" y="1646" width="272.3" height="52" class="r fx"/>
<text x="2394" y="1654.5" class="h">Ⅴ-1：定住自立圏構想の推進</text>
<text x="2394" y="1672" class="m">共生ビジョン実施100%</text>
<text x="2394" y="1688.5" class="s">R1年度:84%</text></g>
<g id="n-koufuku"><rect x="65" y="1529" width="467" height="32.6" class="k fx"/>
<text x="298.5" y="1537.5" class="h">Ⅴ-2：圏域を超えた広域連携の推進</text>
<text x="298.5" y="1553" class="m">住民の幸福実感向上を目指す基礎自治体連合</text></g>
<g id="n-kenkou"><rect x="63" y="1570.6" width="467" height="32.4" class="k fx"/>
<text x="296.5" y="1579" class="h">Ⅴ-2：圏域を超えた広域連携の推進</text>
<text x="296.5" y="1595" class="m">日本健幸都市連合</text></g>
<g id="n-mahiru"><rect x="63" y="1610" width="467" height="40" class="k fw"/>
<text x="296.5" y="1620.7" class="h">Ⅴ-2：圏域を超えた広域連携の推進</text>
<text x="296.5" y="1638.6" class="m">真昼山地を囲む自治体連携</text></g>
<g id="n-jitensha"><rect x="63" y="1654.6" width="467" height="47.4" class="k fw"/>
<text x="296.5" y="1662" class="h" style="font-size:11.5px">Ⅴ-2：圏域を超えた広域連携の推進</text>
<text x="296.5" y="1677" class="m" style="font-size:13.5px">自転車を活用したまちづくりを推進する</text>
<text x="296.5" y="1693" class="m" style="font-size:13.5px">全国市区町村長の会</text></g>
<g id="n-iwatekita"><rect x="706" y="1546" width="271.5" height="62" class="k fx"/>
<text x="841.7" y="1558.5" class="h">Ⅴ-2：圏域を超えた広域連携の推進</text>
<text x="841.7" y="1575.4" class="m2">いわて北自治体クラウド共同利</text>
<text x="841.7" y="1595" class="m2">用推進協議会</text></g>
<g id="n-network"><rect x="637.6" y="1630" width="355" height="72" class="r fx"/>
<text x="815" y="1650.5" class="h">Ⅴ-2：圏域を超えた広域連携の推進</text>
<text x="815" y="1669" class="m">新たな自治体ﾈｯﾄﾜｰｸ参加5団体</text>
<text x="815" y="1686" class="s">H30年度:5団体</text></g>
</svg>
